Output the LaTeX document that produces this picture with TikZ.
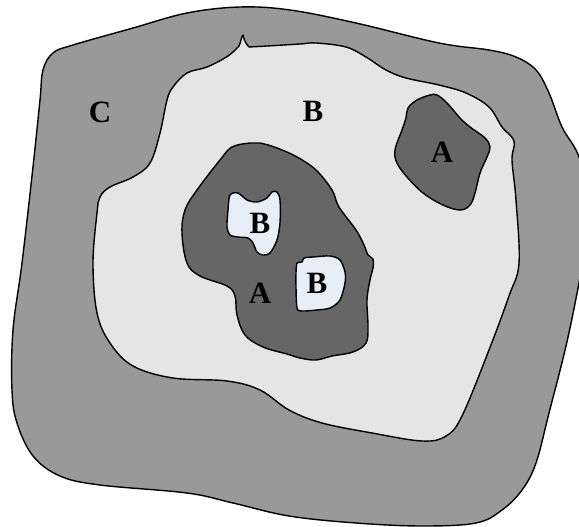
\documentclass[tikz,border=0pt]{standalone}
\usepackage{fontspec}
\setmainfont{Liberation Serif}
\begin{document}
\begin{tikzpicture}[x=1pt,y=-1pt,
  region/.style={draw=black,line width=1.4pt,line join=round},
  lab/.style={font=\fontsize{31}{31}\selectfont\bfseries,inner sep=0pt}]
\definecolor{cgray}{HTML}{999999}
\definecolor{bgray}{HTML}{E5E5E5}
\definecolor{agray}{HTML}{666666}
\definecolor{bblue}{HTML}{E8EEF8}
\useasboundingbox (0,0) rectangle (579,527);
\clip (0,0) rectangle (579,527);
% outer C
\path[region,fill=cgray] plot[smooth cycle,tension=0.6] coordinates {
 (240,7) (290,10) (356,23) (439,43) (489,50) (516,57) (536,70) (549,93) (562,127)
 (580,160) (590,220) (579,283) (566,346) (549,413) (536,463) (522,490) (502,510)
 (476,523) (422,526) (356,523) (289,516) (233,503) (187,493) (100,485) (60,476)
 (33,456) (17,423) (12,390) (13,330) (22,263) (33,167) (40,100) (43,70) (53,53)
 (73,45) (133,28) (187,13)};
% middle B
\path[region,fill=bgray] plot[smooth,tension=0.6] coordinates {
 (249,47) (267,46) (300,44) (316,43) (346,47) (366,57) (386,70) (406,78) (439,85)
 (466,93) (489,107) (502,127) (514,141) (512,160) (516,200) (519,263) (509,296)
 (489,350) (462,416) (446,436) (422,441) (372,433) (322,423) (289,410) (260,390)
 (227,381) (173,378) (133,366) (110,343) (97,313) (93,263) (97,213) (100,197)
 (110,187) (133,177) (150,163) (160,133) (167,100) (173,87) (187,73) (207,67)
 (228,56) (239,46)}
 .. controls (241,42) and (241,37) .. (243,35)
 .. controls (244,40) and (246,44) .. (249,47) -- cycle;
% big A
\path[region,fill=agray] plot[smooth cycle,tension=0.6] coordinates {
 (250,143) (260,143) (277,148) (297,157) (316,170) (332,190) (339,207) (356,230)
 (364,245) (368,255) (373,259) (373,268) (370,280) (367,300) (368,327) (366,343)
 (353,352) (332,356) (316,360) (300,358) (287,354) (263,347) (245,335) (237,315)
 (235,296) (227,286) (200,276) (187,263) (182,233) (185,210) (197,190) (220,160)
 (232,147)};
% small A
\path[region,fill=agray] plot[smooth cycle,tension=0.6] coordinates {
 (430,95) (417,100) (408,108) (406,118) (402,130) (395,150) (397,163) (407,177)
 (423,193) (443,205) (460,210) (470,205) (475,193) (480,173) (487,157) (490,147)
 (485,138) (470,127) (460,118) (447,103) (437,95)};
% small B1
\path[region,fill=bblue] plot[smooth cycle,tension=0.5] coordinates {
 (230,195) (238,193) (247,200) (257,202) (267,198) (272,192) (277,192) (280,200)
 (280,223) (277,240) (270,253) (263,255) (257,252) (253,243) (248,238) (238,237)
 (230,235) (227,227) (228,210)};
% small B2
\path[region,fill=bblue] plot[smooth cycle,tension=0.5] coordinates {
 (297,263) (302,262) (304,258) (313,257) (330,256) (340,260) (345,272) (345,283)
 (340,300) (330,308) (317,310) (302,311) (297,308) (296,287) (296,273)};
% labels
\node[lab] (lc) at (100,112) {C};
\node[lab] (lb) at (313,111) {B};
\node[lab] (la2) at (442,152) {A};
\node[lab] (lb1) at (260,223) {B};
\node[lab] (lb2) at (317,283) {B};
\node[lab] (la1) at (260,293) {A};
\end{tikzpicture}
\end{document}
